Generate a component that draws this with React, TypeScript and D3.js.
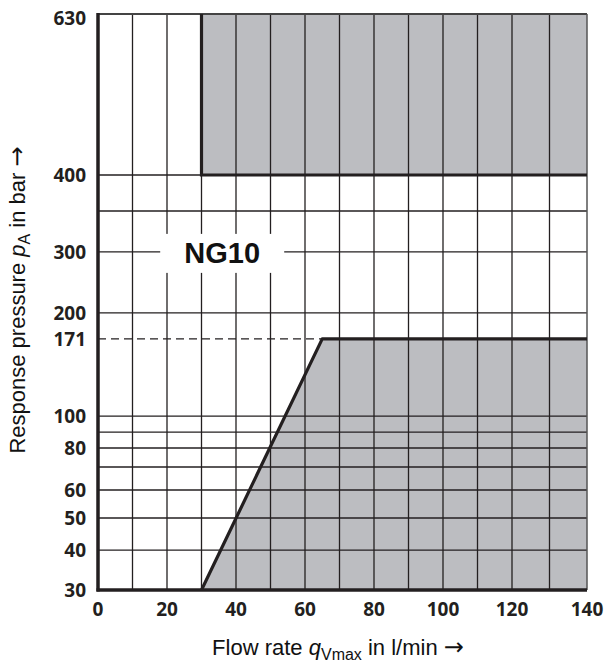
import React from "react";
import * as d3 from "d3";

// ---- data ----
const xTicks = [0, 20, 40, 60, 80, 100, 120, 140];
const xGrid = [10, 20, 30, 40, 50, 60, 70, 80, 90, 100, 110, 120, 130];
const yTicks = [30, 40, 50, 60, 80, 100, 171, 200, 300, 400, 630];
const yGrid = [40, 50, 60, 70, 80, 90, 100, 200, 300, 350, 400];
// chart's own non-linear pressure axis: breakpoints and their relative height
const yBreaks = [30, 40, 50, 60, 70, 80, 90, 100, 171, 200, 300, 350, 400, 630];
const yBreakFrac = [0, 0.0694, 0.125, 0.1736, 0.2135, 0.2465, 0.274, 0.302, 0.436, 0.481, 0.587, 0.658, 0.7205, 1];
// region boundaries (flow rate q, pressure p)
const upperRegion: [number, number][] = [[30, 630], [30, 400], [140, 400]];
const lowerBoundary: [number, number][] = [[30, 30], [65, 171], [140, 171]];
const dashedLevel = 171;
const label = "NG10";

const W = 604, H = 670;
const M = { left: 98, right: 587, top: 14, bottom: 590 };

export default function App() {
  const x = d3.scaleLinear().domain([0, 120, 140]).range([M.left, 512, M.right]);
  const y = d3
    .scaleLinear()
    .domain(yBreaks)
    .range(yBreakFrac.map((f) => M.bottom - f * (M.bottom - M.top)));

  const line = d3
    .line<[number, number]>()
    .x((d) => x(d[0]))
    .y((d) => y(d[1]));

  const lowerPoly: [number, number][] = [...lowerBoundary, [140, 30]];
  const upperPoly: [number, number][] = [[30, 630], [30, 400], [140, 400], [140, 630]];

  const gray = "#bcbdc1";
  const ink = "#231f20";
  const tickFont = "'Open Sans', 'Liberation Sans', sans-serif";
  const titleFont = "'Liberation Sans', Arial, sans-serif";
  const arrowFont = "'DejaVu Sans', sans-serif";

  // NG10 label box
  const lx = x(36), ly = y(300);

  return (
    <svg width={W} height={H} style={{ position: "absolute", left: 0, top: 0, background: "#fff" }}>
      {/* gray regions */}
      <path d={line(upperPoly)! + "Z"} fill={gray} />
      <path d={line(lowerPoly)! + "Z"} fill={gray} />

      {/* grid */}
      {xGrid.map((v) => (
        <line key={"vx" + v} x1={x(v)} x2={x(v)} y1={M.top} y2={M.bottom} stroke={ink} strokeWidth={1.3} />
      ))}
      {yGrid.map((v) => (
        <line key={"hy" + v} x1={M.left} x2={M.right} y1={y(v)} y2={y(v)} stroke={ink} strokeWidth={1.3} />
      ))}
      {/* dashed reference */}
      <line
        x1={M.left}
        x2={x(lowerBoundary[1][0])}
        y1={y(dashedLevel)}
        y2={y(dashedLevel)}
        stroke={ink}
        strokeWidth={1.3}
        strokeDasharray="8,5"
      />

      {/* frame */}
      <line x1={M.left} x2={M.right} y1={M.top} y2={M.top} stroke="#444" strokeWidth={1.8} />
      <line x1={M.right} x2={M.right} y1={M.top} y2={M.bottom} stroke="#555" strokeWidth={1.5} />

      {/* NG10 label */}
      <rect x={lx - 62} y={ly - 18} width={124} height={39} fill="#fff" />
      <text
        x={lx}
        y={ly + 11}
        textAnchor="middle"
        fontFamily="'Liberation Sans', Arial, sans-serif"
        fontWeight="bold"
        fontSize={29}
        fill="#111"
      >
        {label}
      </text>

      {/* thick boundaries */}
      <path d={line(upperRegion)!} fill="none" stroke={ink} strokeWidth={3.2} />
      <path d={line(lowerBoundary)!} fill="none" stroke={ink} strokeWidth={3.2} strokeLinejoin="round" />
      <line x1={M.left} x2={M.left} y1={M.top - 1} y2={M.bottom + 1.5} stroke={ink} strokeWidth={3.5} />
      <line x1={M.left - 1.5} x2={M.right} y1={M.bottom} y2={M.bottom} stroke={ink} strokeWidth={3.5} />

      {/* y tick labels */}
      {yTicks.map((v) => (
        <text
          key={"yt" + v}
          x={86}
          y={y(v) + (v === 630 ? 4 : 0)}
          dy="0.36em"
          textAnchor="end"
          fontFamily={tickFont}
          fontWeight={700}
          fontSize={19}
          fill="#231f20"
        >
          {v}
        </text>
      ))}
      {/* x tick labels */}
      {xTicks.map((v) => (
        <text
          key={"xt" + v}
          x={x(v)}
          y={M.bottom + 19}
          dy="0.36em"
          textAnchor="middle"
          fontFamily={tickFont}
          fontWeight={700}
          fontSize={19}
          fill="#231f20"
        >
          {v}
        </text>
      ))}

      {/* x title */}
      <text x={338} y={655} textAnchor="middle" fontFamily={titleFont} fontSize={22} fill="#111">
        Flow rate{" "}
        <tspan fontStyle="italic">q</tspan>
        <tspan dy={5} fontSize={16}>Vmax</tspan>
        <tspan dy={-5}> in l/min </tspan>
        <tspan fontFamily={arrowFont} fontSize={24}>→</tspan>
      </text>

      {/* y title */}
      <text
        transform={`translate(25, 300) rotate(-90)`}
        textAnchor="middle"
        fontFamily={titleFont}
        fontSize={22}
        fill="#111"
      >
        Response pressure{" "}
        <tspan fontStyle="italic">p</tspan>
        <tspan dy={5} fontSize={16}>A</tspan>
        <tspan dy={-5}> in bar </tspan>
        <tspan fontFamily={arrowFont} fontSize={24}>→</tspan>
      </text>
    </svg>
  );
}
